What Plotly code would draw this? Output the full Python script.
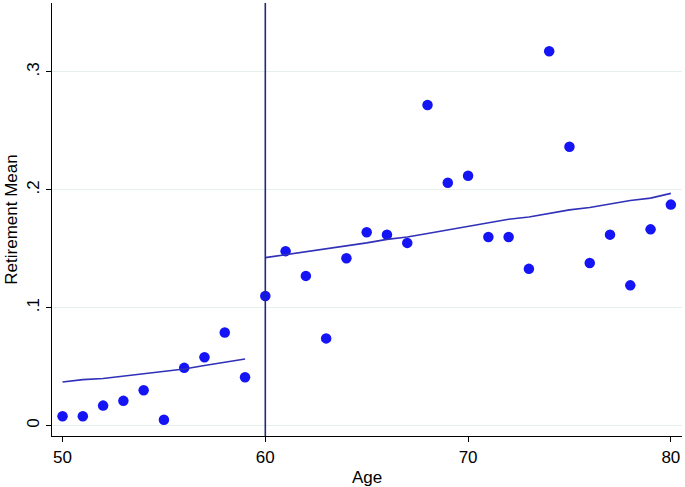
import plotly.graph_objects as go

# ages and mean retirement rate per age
ages = list(range(50, 81))
retire_mean = [0.008, 0.008, 0.017, 0.021, 0.030, 0.005, 0.049, 0.058, 0.079, 0.041,
               0.110, 0.148, 0.127, 0.074, 0.142, 0.164, 0.162, 0.155, 0.272, 0.206,
               0.212, 0.160, 0.160, 0.133, 0.3175, 0.2365, 0.138, 0.162, 0.119, 0.1665,
               0.1875]

# fitted values, below and above the cutoff
fit_left_age = list(range(50, 60))
fit_left = [0.037, 0.039, 0.040, 0.042, 0.044, 0.046, 0.048, 0.051, 0.054, 0.0565]
fit_right_age = list(range(60, 81))
fit_right = [0.1425, 0.145, 0.147, 0.150, 0.152, 0.155, 0.158, 0.160, 0.163, 0.166,
             0.169, 0.172, 0.175, 0.177, 0.180, 0.183, 0.185, 0.188, 0.191, 0.193, 0.197]

cutoff = 60
x_ticks = [50, 60, 70, 80]
y_ticks = [0, 0.1, 0.2, 0.3]
y_labels = ['0', '.1', '.2', '.3']

fig = go.Figure()

fig.add_trace(go.Scatter(x=ages, y=retire_mean, mode='markers',
                         marker=dict(color='#1414f5', size=10.5), cliponaxis=False))
fig.add_trace(go.Scatter(x=fit_left_age, y=fit_left, mode='lines',
                         line=dict(color='#3030b8', width=1.6)))
fig.add_trace(go.Scatter(x=fit_right_age, y=fit_right, mode='lines',
                         line=dict(color='#3030b8', width=1.6)))

# vertical line at the cutoff age
fig.add_vline(x=cutoff, line=dict(color='#1f2a78', width=1.6))

axis_font = dict(family='Liberation Sans, Arial', size=17, color='black')

fig.update_layout(
    width=685, height=487,
    margin=dict(l=52, r=3, t=3, b=51),
    paper_bgcolor='white', plot_bgcolor='white',
    showlegend=False,
    font=axis_font,
    xaxis=dict(
        range=[49.48, 80.55], tickvals=x_ticks,
        showgrid=False, zeroline=False,
        showline=True, linecolor='black', linewidth=1.3,
        ticks='outside', ticklen=5, tickcolor='black',
        tickfont=axis_font, automargin=False,
        title=dict(text='Age', font=axis_font, standoff=5),
    ),
    yaxis=dict(
        range=[-0.0088, 0.3585], tickvals=y_ticks, ticktext=y_labels,
        tickangle=-90,
        showgrid=True, gridcolor='#e6eff0', gridwidth=1,
        zeroline=False,
        showline=True, linecolor='black', linewidth=1.3,
        ticks='outside', ticklen=5, tickcolor='black',
        tickfont=axis_font, automargin=False,
        title=dict(text='Retirement Mean', font=axis_font, standoff=2),
    ),
)

# drop the default page margin so the figure sits at the window's corner
fig.write_html("out.html", config={'displayModeBar': False},
               post_script="document.body.style.margin='0';")
